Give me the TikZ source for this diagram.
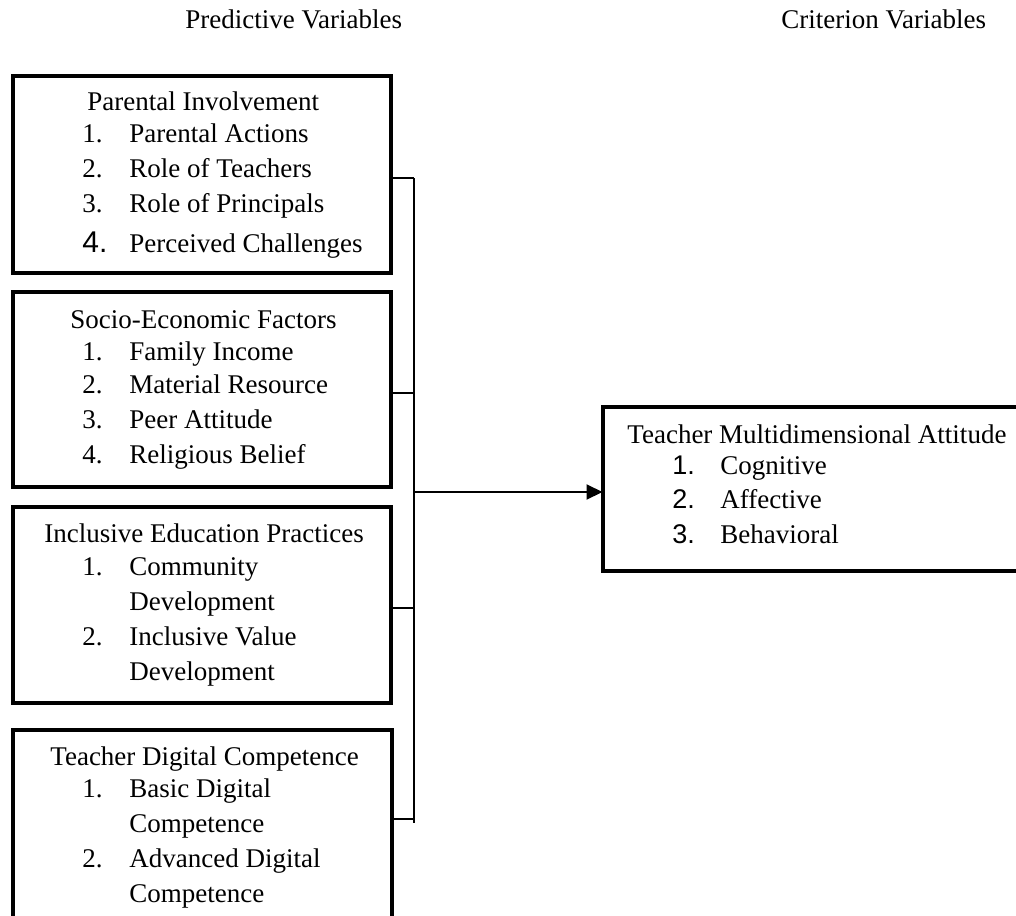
\documentclass[tikz,border=0pt]{standalone}
\usepackage{fontspec}
\setmainfont{Liberation Serif}
\newfontfamily\numfont{Liberation Sans}
\usetikzlibrary{arrows.meta}
\newlength{\du}
\setlength{\du}{0.5pt}
\tikzset{
  varbox/.style={draw, rectangle, line width=4\du, outer sep=0pt, inner sep=0pt, anchor=north west},
  vartext/.style={anchor=base west, inner sep=0pt, font=\fontsize{13.5}{15}\selectfont},
  busline/.style={line width=1.5\du},
  mainarrow/.style={line width=2\du, -{Triangle[length=8pt,width=7.5pt]}}
}

\begin{document}
\begin{tikzpicture}
\pgftransformxscale{1.000000}
\pgftransformyscale{-1.000000}
\useasboundingbox (0\du,0\du) rectangle (1016\du,915\du);
\clip (0\du,0\du) rectangle (1016\du,915\du);
% headings
\node[vartext] (predhead) at (185.000000\du,29.000000\du){Predictive Variables};
\node[vartext] (crithead) at (781.000000\du,29.000000\du){Criterion Variables};
% predictive boxes
\node[varbox, minimum width=378.5\du, minimum height=196.5\du] (pibox) at (12.500000\du,76.000000\du){};
\node[varbox, minimum width=378.5\du, minimum height=195.0\du] (sebox) at (12.500000\du,292.000000\du){};
\node[varbox, minimum width=378.5\du, minimum height=196.0\du] (iebox) at (12.500000\du,507.000000\du){};
\node[varbox, minimum width=379.0\du, minimum height=230.0\du] (tdbox) at (12.500000\du,730.000000\du){};
% criterion box
\node[varbox, minimum width=440.0\du, minimum height=164.5\du] (tmbox) at (602.500000\du,406.500000\du){};
% Parental Involvement
\node[vartext] (pititle) at (87.000000\du,111.000000\du){Parental Involvement};
\node[vartext] (pinum1) at (82.000000\du,142.000000\du){1.};
\node[vartext] (piitem1) at (129.000000\du,142.000000\du){Parental Actions};
\node[vartext] (pinum2) at (82.000000\du,177.000000\du){2.};
\node[vartext] (piitem2) at (129.000000\du,177.000000\du){Role of Teachers};
\node[vartext] (pinum3) at (82.000000\du,212.000000\du){3.};
\node[vartext] (piitem3) at (129.000000\du,212.000000\du){Role of Principals};
\node[vartext, font=\numfont\fontsize{15}{17}\selectfont] (pinum4) at (82.000000\du,252.000000\du){4.};
\node[vartext] (piitem4) at (129.000000\du,252.000000\du){Perceived Challenges};
% Socio-Economic Factors
\node[vartext] (setitle) at (70.000000\du,328.000000\du){Socio-Economic Factors};
\node[vartext] (senum1) at (82.000000\du,360.000000\du){1.};
\node[vartext] (seitem1) at (129.000000\du,360.000000\du){Family Income};
\node[vartext] (senum2) at (82.000000\du,393.000000\du){2.};
\node[vartext] (seitem2) at (129.000000\du,393.000000\du){Material Resource};
\node[vartext] (senum3) at (82.000000\du,428.000000\du){3.};
\node[vartext] (seitem3) at (129.000000\du,428.000000\du){Peer Attitude};
\node[vartext] (senum4) at (82.000000\du,463.000000\du){4.};
\node[vartext] (seitem4) at (129.000000\du,463.000000\du){Religious Belief};
% Inclusive Education Practices
\node[vartext] (ietitle) at (44.000000\du,542.000000\du){Inclusive Education Practices};
\node[vartext] (ienum1) at (82.000000\du,575.000000\du){1.};
\node[vartext] (ieitem1) at (129.000000\du,575.000000\du){Community};
\node[vartext] (ieitem1b) at (129.000000\du,610.000000\du){Development};
\node[vartext] (ienum2) at (82.000000\du,645.000000\du){2.};
\node[vartext] (ieitem2) at (129.000000\du,645.000000\du){Inclusive Value};
\node[vartext] (ieitem2b) at (129.000000\du,680.000000\du){Development};
% Teacher Digital Competence
\node[vartext] (tdtitle) at (50.000000\du,765.000000\du){Teacher Digital Competence};
\node[vartext] (tdnum1) at (82.000000\du,797.000000\du){1.};
\node[vartext] (tditem1) at (129.000000\du,797.000000\du){Basic Digital};
\node[vartext] (tditem1b) at (129.000000\du,832.000000\du){Competence};
\node[vartext] (tdnum2) at (82.000000\du,867.000000\du){2.};
\node[vartext] (tditem2) at (129.000000\du,867.000000\du){Advanced Digital};
\node[vartext] (tditem2b) at (129.000000\du,902.000000\du){Competence};
% Teacher Multidimensional Attitude
\node[vartext] (tmtitle) at (627.000000\du,443.000000\du){Teacher Multidimensional Attitude};
\node[vartext, font=\numfont\fontsize{13.5}{15}\selectfont] (tmnum1) at (672.000000\du,474.000000\du){1.};
\node[vartext] (tmitem1) at (720.000000\du,474.000000\du){Cognitive};
\node[vartext, font=\numfont\fontsize{13.5}{15}\selectfont] (tmnum2) at (672.000000\du,508.000000\du){2.};
\node[vartext] (tmitem2) at (720.000000\du,508.000000\du){Affective};
\node[vartext, font=\numfont\fontsize{13.5}{15}\selectfont] (tmnum3) at (672.000000\du,543.000000\du){3.};
\node[vartext] (tmitem3) at (720.000000\du,543.000000\du){Behavioral};
% bus
\coordinate (bus1) at (414.000000\du,178.000000\du);
\coordinate (bus2) at (414.000000\du,393.000000\du);
\coordinate (bus3) at (414.000000\du,608.000000\du);
\coordinate (bus4) at (414.000000\du,819.000000\du);
\coordinate (busend) at (414.000000\du,823.000000\du);
\coordinate (busmid) at (414.000000\du,492.000000\du);
\draw[busline] (pibox.east |- bus1)--(bus1);
\draw[busline] (sebox.east |- bus2)--(bus2);
\draw[busline] (iebox.east |- bus3)--(bus3);
\draw[busline] (tdbox.east |- bus4)--(bus4);
\draw[busline] (bus1)--(busend);
\draw[mainarrow] (busmid)--(tmbox.west |- busmid);
\end{tikzpicture}
\end{document}
